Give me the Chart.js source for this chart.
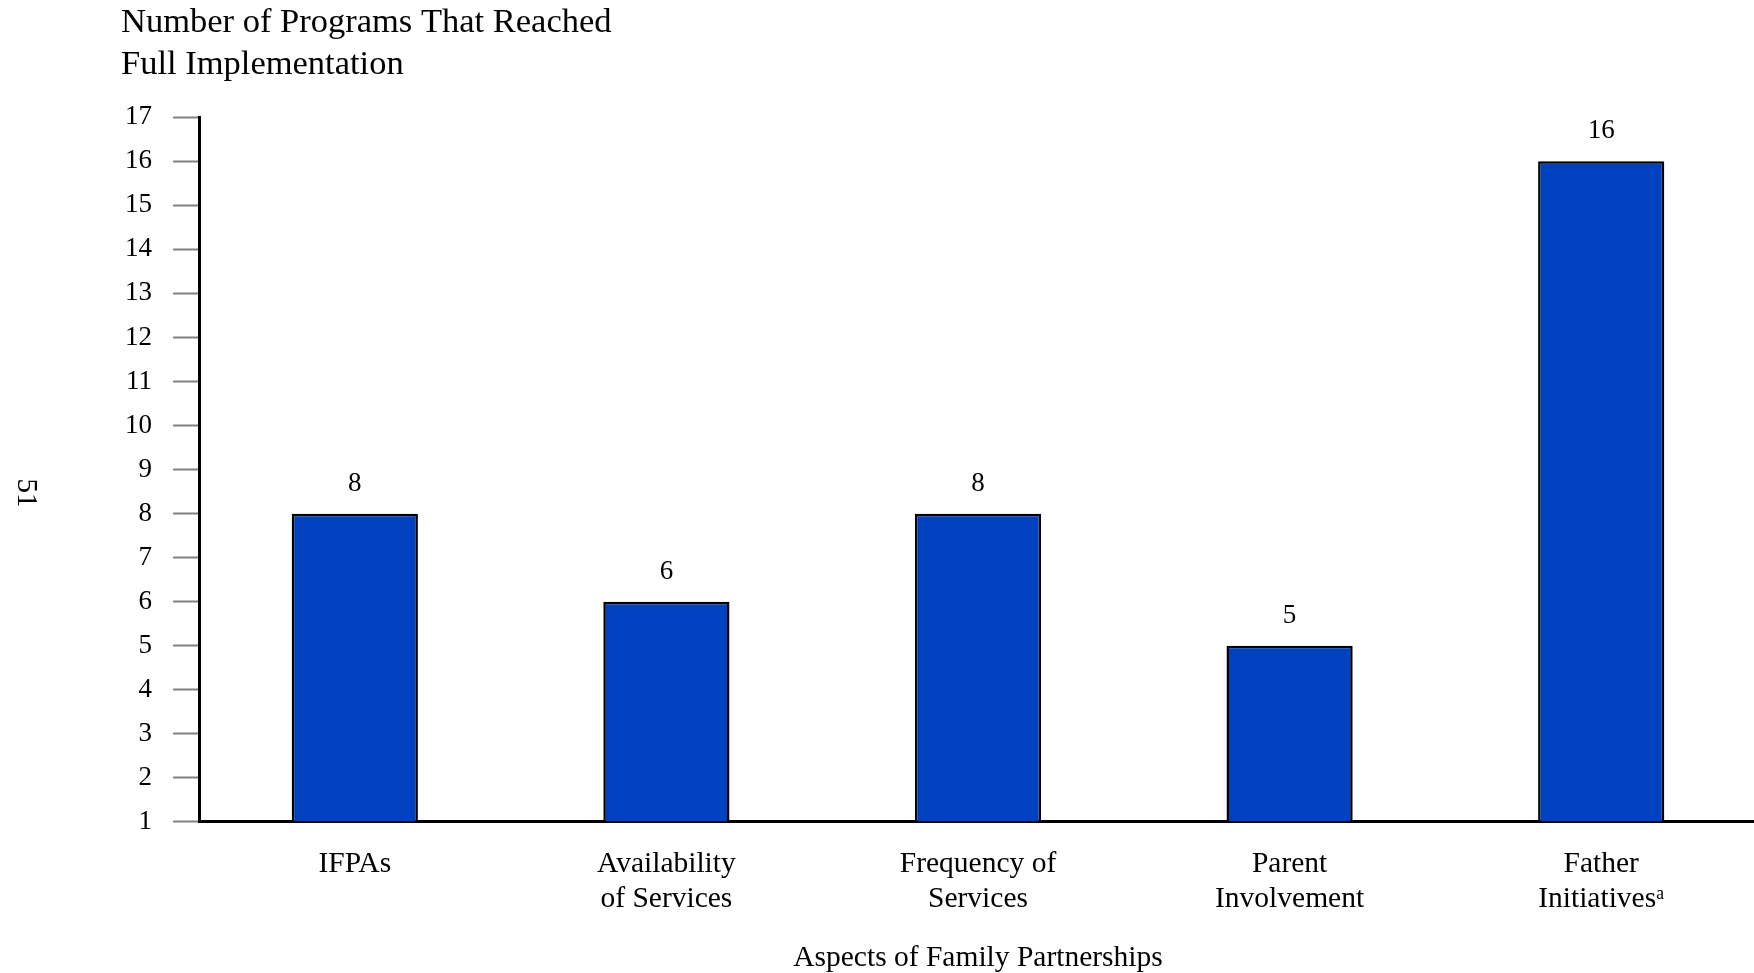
<!DOCTYPE html>
<html>
<head>
<meta charset="utf-8">
<script src="https://cdn.jsdelivr.net/npm/chart.js@4.4.1/dist/chart.umd.min.js"></script>
<style>
    html, body { margin: 0; padding: 0; background: #fff; overflow: hidden; }
    #wrap { position: relative; width: 1757px; height: 973px; }
</style>
</head>
<body>
<div id="wrap"><canvas id="family-partnerships-chart"></canvas></div>
<script>
const categories = [
    ['IFPAs'],
    ['Availability', 'of Services'],
    ['Frequency of', 'Services'],
    ['Parent', 'Involvement'],
    ['Father', 'Initiatives\u1d43'],
];
const programCounts = [8, 6, 8, 5, 16];
const yTicks = { min: 1, max: 17, step: 1 };
const titleLines = ['Number of Programs That Reached', 'Full Implementation'];
const xTitle = 'Aspects of Family Partnerships';
const pageNumber = '51';

const serif = '"Liberation Serif", "Times New Roman", serif';

// value labels above each bar
const barValues = {
    id: 'barValues',
    afterDatasetsDraw(chart) {
        const { ctx } = chart;
        const meta = chart.getDatasetMeta(0);
        ctx.save();
        ctx.font = `27px ${serif}`;
        ctx.fillStyle = '#000';
        ctx.textAlign = 'center';
        ctx.textBaseline = 'middle';
        meta.data.forEach((bar, i) => {
            ctx.fillText(String(programCounts[i]), bar.x, bar.y - 30);
        });
        ctx.restore();
    },
};

// rotated page number in the left margin
const pageMark = {
    id: 'pageMark',
    afterDraw(chart) {
        const { ctx } = chart;
        ctx.save();
        ctx.translate(26, 493);
        ctx.rotate(Math.PI / 2);
        ctx.font = `29px ${serif}`;
        ctx.fillStyle = '#000';
        ctx.textAlign = 'center';
        ctx.textBaseline = 'middle';
        ctx.fillText(pageNumber, 0, 0);
        ctx.restore();
    },
};

new Chart(document.getElementById('family-partnerships-chart'), {
    type: 'bar',
    data: {
        labels: categories,
        datasets: [
            {
                data: programCounts,
                base: yTicks.min,
                backgroundColor: '#0041bf',
                borderColor: '#000',
                borderWidth: 2.5,
                barPercentage: 0.405,
                categoryPercentage: 1,
            },
        ],
    },
    options: {
        responsive: true,
        maintainAspectRatio: false,
        animation: false,
        layout: {
            padding: { left: 121, right: 0, top: 0, bottom: 0 },
        },
        plugins: {
            legend: { display: false },
            tooltip: { enabled: false },
            title: {
                display: true,
                text: titleLines,
                align: 'start',
                color: '#000',
                font: { family: serif, size: 34.5, weight: 'normal', lineHeight: 1.22 },
                padding: { top: 2, bottom: 31 },
            },
        },
        scales: {
            x: {
                grid: { display: false, drawTicks: false },
                border: { color: '#000', width: 3 },
                ticks: {
                    color: '#000',
                    padding: 25,
                    maxRotation: 0,
                    autoSkip: false,
                    font: { family: serif, size: 29.5, lineHeight: 1.19 },
                },
                title: {
                    display: true,
                    text: xTitle,
                    color: '#000',
                    font: { family: serif, size: 29.5, lineHeight: 1.0 },
                    padding: 0,
                },
                afterFit(scale) {
                    scale.height = 151;
                },
            },
            y: {
                min: yTicks.min,
                max: yTicks.max,
                grid: {
                    drawOnChartArea: false,
                    drawTicks: true,
                    tickLength: 26,
                    tickColor: '#808080',
                    tickWidth: 2,
                },
                border: { color: '#000', width: 3 },
                ticks: {
                    stepSize: yTicks.step,
                    color: '#000',
                    padding: 21,
                    font: { family: serif, size: 27 },
                },
                afterFit(scale) {
                    scale.width = 78;
                },
            },
        },
    },
    plugins: [barValues, pageMark],
});
</script>
</body>
</html>
